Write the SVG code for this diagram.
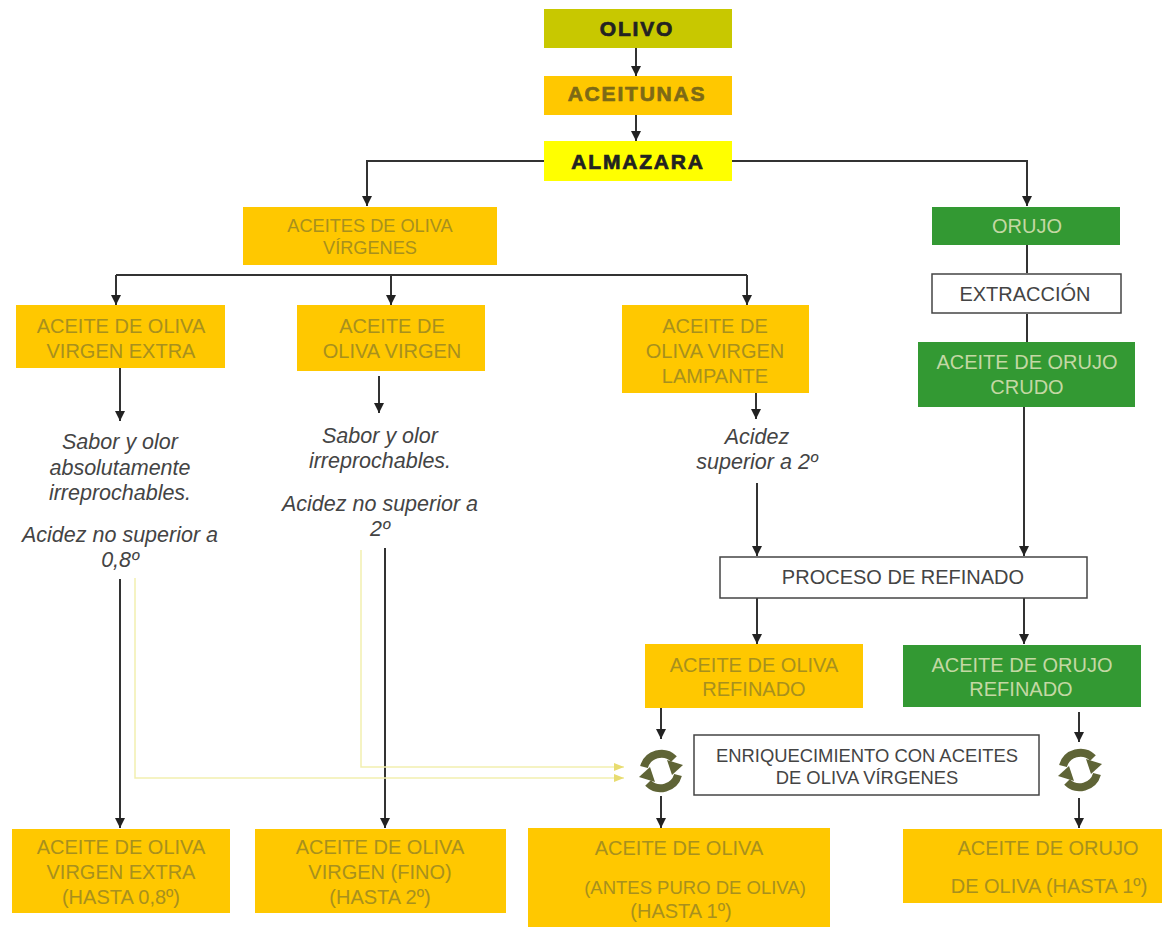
<svg xmlns="http://www.w3.org/2000/svg" width="1162" height="927" viewBox="0 0 1162 927">
<defs>
<marker id="ah" viewBox="0 0 10 10" refX="10" refY="5" markerWidth="11" markerHeight="10" markerUnits="userSpaceOnUse" orient="auto"><path d="M0 0L10 5L0 10Z" fill="#222"/></marker>
<marker id="ahy" viewBox="0 0 10 8" refX="10" refY="4" markerWidth="10" markerHeight="8" markerUnits="userSpaceOnUse" orient="auto"><path d="M0 0L10 4L0 8Z" fill="#e8dc70"/></marker>
<g id="cycle">
<path d="M-17 -4A18 18 0 0 1 13 -12" fill="none" stroke="#5f6436" stroke-width="8"/>
<path d="M6 -11L22 -6L11 4Z" fill="#5f6436"/>
<path d="M17 4A18 18 0 0 1 -13 12" fill="none" stroke="#5f6436" stroke-width="8"/>
<path d="M-6 11L-22 6L-11 -4Z" fill="#5f6436"/>
</g>
</defs>
<style>
text{font-family:"Liberation Sans",Arial,sans-serif;text-anchor:middle}
.o{fill:#ffc800}.g{fill:#339933}.w{fill:#fff;stroke:#444;stroke-width:1.5}
.ol{font-size:20px;fill:#a8901e}.gl{font-size:20px;fill:#c4d8a4}.bl{font-size:20px;fill:#444}
.i{font-size:21.5px;font-style:italic;fill:#444}
.b{font-size:21px;font-weight:700;letter-spacing:1.8px;stroke-width:.7px}
.c{fill:none;stroke:#333;stroke-width:2;marker-end:url(#ah)}
.n{fill:none;stroke:#333;stroke-width:2}
.y{fill:none;stroke:#f2efb0;stroke-width:1.5;marker-end:url(#ahy)}
</style>
<rect width="1162" height="927" fill="#fff"/>
<g id="connectors">
<path class="c" d="M636 48V76"/>
<path class="c" d="M636 114V141"/>
<path class="c" d="M544 161H367V206"/>
<path class="c" d="M732 161H1027V206"/>
<path class="n" d="M116 275H747"/>
<path class="c" d="M116 275V305"/>
<path class="c" d="M391 275V305"/>
<path class="c" d="M747 275V305"/>
<path class="n" d="M1027 245V273M1027 314V342"/>
<path class="c" d="M120 368V421"/>
<path class="c" d="M379 376V413"/>
<path class="c" d="M756 393V419"/>
<path class="c" d="M757 483V556"/>
<path class="c" d="M1024 407V556"/>
<path class="c" d="M757 598V644"/>
<path class="c" d="M1024 598V644"/>
<path class="c" d="M661 708V739"/>
<path class="c" d="M1079 712V742"/>
<path class="c" d="M661 796V828"/>
<path class="c" d="M1079 798V828"/>
<path class="c" d="M120 579V828"/>
<path class="c" d="M385 548V828"/>
<path class="y" d="M135 578V778H624"/>
<path class="y" d="M361 550V767H624"/>
</g>
<g id="olivo"><rect x="544" y="9" width="188" height="39" fill="#c8c800"/><text class="b" x="637" y="36" fill="#222" stroke="#222">OLIVO</text></g>
<g id="aceitunas"><rect x="544" y="76" width="188" height="39" class="o"/><text class="b" x="637" y="101" fill="#7d6a16" stroke="#7d6a16">ACEITUNAS</text></g>
<g id="almazara"><rect x="544" y="141" width="188" height="40" fill="#ffff00"/><text class="b" x="638" y="169" fill="#222" stroke="#222">ALMAZARA</text></g>
<g id="virgenes"><rect x="243" y="207" width="254" height="58" class="o"/><text class="ol" x="370" y="232" style="font-size:18.2px">ACEITES DE OLIVA</text><text class="ol" x="370" y="254" style="font-size:18.2px">VÍRGENES</text></g>
<g id="orujo"><rect x="932" y="207" width="188" height="38" class="g"/><text class="gl" x="1027" y="233">ORUJO</text></g>
<g id="extraccion"><rect x="932" y="274" width="189" height="39" class="w"/><text class="bl" x="1025" y="301">EXTRACCIÓN</text></g>
<g id="orujo-crudo"><rect x="918" y="342" width="217" height="65" class="g"/><text class="gl" x="1027" y="369">ACEITE DE ORUJO</text><text class="gl" x="1027" y="394">CRUDO</text></g>
<g id="virgen-extra"><rect x="16" y="305" width="209" height="63" class="o"/><text class="ol" x="121" y="333">ACEITE DE OLIVA</text><text class="ol" x="121" y="358">VIRGEN EXTRA</text></g>
<g id="virgen"><rect x="297" y="305" width="188" height="66" class="o"/><text class="ol" x="392" y="333">ACEITE DE</text><text class="ol" x="392" y="358">OLIVA VIRGEN</text></g>
<g id="lampante"><rect x="622" y="305" width="187" height="88" class="o"/><text class="ol" x="715" y="333">ACEITE DE</text><text class="ol" x="715" y="358">OLIVA VIRGEN</text><text class="ol" x="715" y="383">LAMPANTE</text></g>
<g id="nota-extra"><text class="i" x="120" y="449">Sabor y olor</text><text class="i" x="120" y="475">absolutamente</text><text class="i" x="120" y="500">irreprochables.</text><text class="i" x="120" y="542">Acidez no superior a</text><text class="i" x="120" y="567">0,8º</text></g>
<g id="nota-virgen"><text class="i" x="380" y="443">Sabor y olor</text><text class="i" x="380" y="468">irreprochables.</text><text class="i" x="380" y="511">Acidez no superior a</text><text class="i" x="380" y="536">2º</text></g>
<g id="nota-lampante"><text class="i" x="757" y="444">Acidez</text><text class="i" x="757" y="469">superior a 2º</text></g>
<g id="refinado"><rect x="720" y="557" width="367" height="41" class="w"/><text class="bl" x="903" y="584">PROCESO DE REFINADO</text></g>
<g id="oliva-refinado"><rect x="645" y="644" width="218" height="64" class="o"/><text class="ol" x="754" y="672">ACEITE DE OLIVA</text><text class="ol" x="754" y="696">REFINADO</text></g>
<g id="orujo-refinado"><rect x="903" y="645" width="238" height="62" class="g"/><text class="gl" x="1022" y="672">ACEITE DE ORUJO</text><text class="gl" x="1021" y="696">REFINADO</text></g>
<g id="enriquecimiento"><rect x="694" y="735" width="345" height="60" class="w"/><text class="bl" x="867" y="762" style="font-size:18.4px">ENRIQUECIMIENTO CON ACEITES</text><text class="bl" x="867" y="784" style="font-size:18.4px">DE OLIVA VÍRGENES</text></g>
<g id="ciclo-1"><use href="#cycle" x="661" y="771"/></g>
<g id="ciclo-2"><use href="#cycle" x="1080" y="770"/></g>
<g id="final-extra"><rect x="12" y="829" width="218" height="84" class="o"/><text class="ol" x="121" y="854">ACEITE DE OLIVA</text><text class="ol" x="121" y="879">VIRGEN EXTRA</text><text class="ol" x="121" y="904">(HASTA 0,8º)</text></g>
<g id="final-fino"><rect x="255" y="829" width="251" height="84" class="o"/><text class="ol" x="380" y="854">ACEITE DE OLIVA</text><text class="ol" x="380" y="879">VIRGEN (FINO)</text><text class="ol" x="380" y="904">(HASTA 2º)</text></g>
<g id="final-oliva"><rect x="528" y="828" width="302" height="99" class="o"/><text class="ol" x="679" y="855">ACEITE DE OLIVA</text><text class="ol" x="695" y="894" style="font-size:18.5px">(ANTES PURO DE OLIVA)</text><text class="ol" x="681" y="918">(HASTA 1º)</text></g>
<g id="final-orujo"><rect x="903" y="829" width="259" height="74" class="o"/><text class="ol" x="1048" y="855">ACEITE DE ORUJO</text><text class="ol" x="1049" y="893">DE OLIVA (HASTA 1º)</text></g>
</svg>
